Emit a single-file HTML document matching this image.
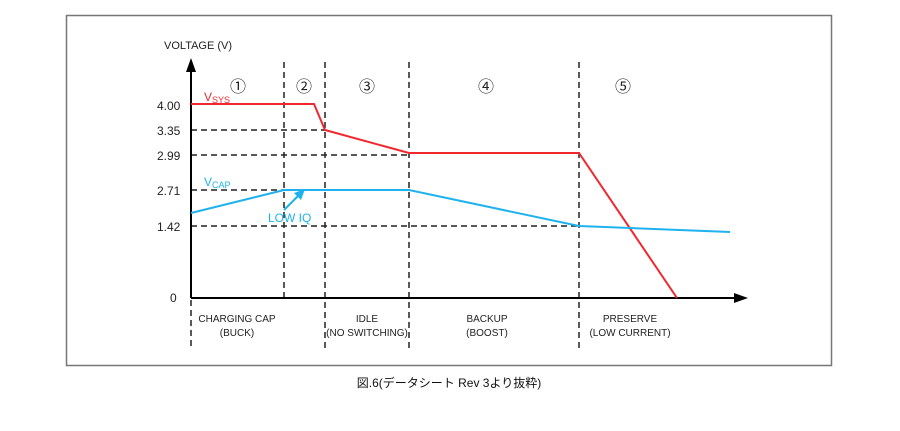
<!DOCTYPE html>
<html><head><meta charset="utf-8"><style>
body{margin:0;background:#fff;width:900px;height:431px;overflow:hidden}
svg{display:block}
text{font-family:"Liberation Sans","Noto Sans CJK JP",sans-serif}
</style></head><body>
<svg width="900" height="431" viewBox="0 0 900 431">
<rect x="66.5" y="15.5" width="765" height="350" fill="#fff" stroke="#777" stroke-width="1.5"/>
<g stroke="#222" stroke-width="1.5" stroke-dasharray="6,4" fill="none">
<line x1="284" y1="62" x2="284" y2="298"/>
<line x1="325" y1="62" x2="325" y2="348"/>
<line x1="409" y1="62" x2="409" y2="348"/>
<line x1="579" y1="62" x2="579" y2="348"/>
<line x1="191" y1="300" x2="191" y2="348"/>
<line x1="191" y1="130" x2="325" y2="130"/>
<line x1="191" y1="155" x2="409" y2="155"/>
<line x1="191" y1="190" x2="284" y2="190"/>
<line x1="191" y1="226" x2="579" y2="226"/>
</g>
<g stroke="#000" stroke-width="2">
<line x1="191" y1="70" x2="191" y2="298"/>
<line x1="191" y1="298" x2="736" y2="298"/>
</g>
<polygon points="191,58 186,72 196,72" fill="#000"/>
<polygon points="748,298 734,293 734,303" fill="#000"/>
<polyline points="191,104 314,104 325,130 409,153 579,153 677,298" fill="none" stroke="#f0282d" stroke-width="2"/>
<polyline points="191,213 284,190 409,190 579,226 730,232" fill="none" stroke="#1fb2ee" stroke-width="2"/>
<line x1="284" y1="210" x2="300" y2="194" stroke="#1fb2ee" stroke-width="2"/>
<polygon points="305,189 294,193 301,200" fill="#1fb2ee"/>
<g font-size="12" fill="#222">
<text x="164" y="49" font-size="11">VOLTAGE (V)</text>
<text x="157" y="110">4.00</text>
<text x="157" y="135">3.35</text>
<text x="157" y="160">2.99</text>
<text x="157" y="195">2.71</text>
<text x="157" y="231">1.42</text>
<text x="170" y="302">0</text>
</g>
<g font-size="16" fill="#222" text-anchor="middle">
<text x="238" y="92">①</text><text x="304" y="92">②</text><text x="367" y="92">③</text><text x="486" y="92">④</text><text x="623" y="92">⑤</text>
</g>
<text x="204" y="101" font-size="12" fill="#f0282d">V<tspan font-size="9" dy="2">SYS</tspan></text>
<text x="204" y="186" font-size="12" fill="#1fb2ee">V<tspan font-size="9" dy="2">CAP</tspan></text>
<text x="268" y="222" font-size="12" fill="#1fb2ee">LOW IQ</text>
<g font-size="10" fill="#222" text-anchor="middle">
<text x="237" y="322">CHARGING CAP</text><text x="237" y="336">(BUCK)</text>
<text x="367" y="322">IDLE</text><text x="367" y="336">(NO SWITCHING)</text>
<text x="487" y="322">BACKUP</text><text x="487" y="336">(BOOST)</text>
<text x="630" y="322">PRESERVE</text><text x="630" y="336">(LOW CURRENT)</text>
</g>
<text x="449" y="387" font-size="12" fill="#111" text-anchor="middle">図.6(データシート Rev 3より抜粋)</text>
</svg>
</body></html>
